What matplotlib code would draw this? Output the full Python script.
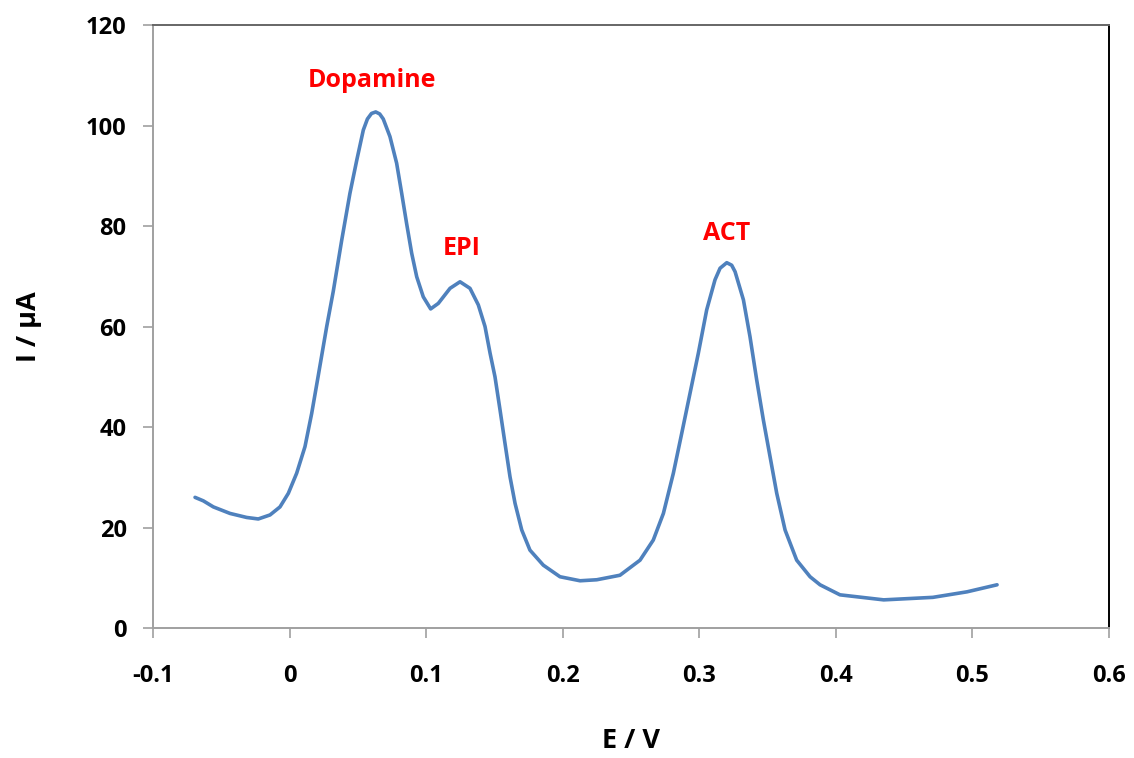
import matplotlib
matplotlib.use("Agg")
import matplotlib.pyplot as plt
from matplotlib.ticker import FuncFormatter

# differential pulse voltammogram: potential (V) vs current (uA)
potential = [
    -0.0692, -0.0631, -0.0558, -0.0436, -0.0314, -0.0229, -0.0143, -0.0070,
    -0.0009, 0.0052, 0.0113, 0.0162, 0.0210, 0.0272, 0.0320, 0.0382,
    0.0442, 0.0492, 0.0540, 0.0570, 0.0600, 0.0631, 0.0660, 0.0686,
    0.0735, 0.0784, 0.0821, 0.0857, 0.0894, 0.0931, 0.0979, 0.1033,
    0.1089, 0.1175, 0.1248, 0.1321, 0.1382, 0.1431, 0.1468, 0.1504,
    0.1541, 0.1577, 0.1614, 0.1651, 0.1700, 0.1760, 0.1858, 0.1980,
    0.2127, 0.2249, 0.2419, 0.2566, 0.2663, 0.2737, 0.2810, 0.2871,
    0.2932, 0.2993, 0.3054, 0.3115, 0.3152, 0.3201, 0.3237, 0.3262,
    0.3323, 0.3371, 0.3420, 0.3469, 0.3518, 0.3567, 0.3628, 0.3713,
    0.3811, 0.3884, 0.4030, 0.4350, 0.4710, 0.4960, 0.5180,
]
current = [
    26.0, 25.3, 24.1, 22.8, 22.0, 21.7, 22.5, 24.1,
    26.8, 30.8, 36.1, 42.7, 50.2, 60.0, 67.0, 77.2,
    86.5, 93.1, 99.1, 101.3, 102.4, 102.7, 102.3, 101.3,
    97.8, 92.5, 86.5, 80.5, 74.6, 69.9, 65.9, 63.5,
    64.6, 67.6, 68.9, 67.6, 64.3, 60.0, 54.7, 50.0,
    43.4, 36.8, 30.1, 24.8, 19.5, 15.5, 12.5, 10.2,
    9.4, 9.6, 10.5, 13.5, 17.5, 22.8, 30.8, 38.7,
    46.7, 54.7, 63.3, 69.3, 71.6, 72.7, 72.2, 70.9,
    65.3, 58.0, 49.4, 41.4, 34.1, 26.8, 19.5, 13.5,
    10.2, 8.6, 6.6, 5.6, 6.1, 7.2, 8.6,
]

peak_names = ["Dopamine", "EPI", "ACT"]
peak_label_x = [0.0603, 0.126, 0.320]
peak_label_y = [108.9, 75.6, 78.6]

x_ticks = [-0.1, 0, 0.1, 0.2, 0.3, 0.4, 0.5, 0.6]
y_ticks = [0, 20, 40, 60, 80, 100, 120]

plt.rcParams["font.family"] = ["Open Sans", "DejaVu Sans"]
plt.rcParams["font.weight"] = "bold"

fig = plt.figure(figsize=(11.34, 7.58), dpi=100)
ax = fig.add_axes([0.1349, 0.1715, 0.8431, 0.7955])

ax.plot(potential, current, color="#4F81BD", linewidth=2.6,
        solid_capstyle="round", solid_joinstyle="round")

for name, lx, ly in zip(peak_names, peak_label_x, peak_label_y):
    ax.text(lx, ly, name, color="red", fontsize=18, fontweight="bold",
            ha="center", va="center")

ax.set_xlim(-0.1, 0.6)
ax.set_ylim(0, 120)
ax.set_xticks(x_ticks)
ax.set_yticks(y_ticks)
ax.xaxis.set_major_formatter(FuncFormatter(lambda v, p: f"{v:g}".replace("\u2212", "-")))
ax.yaxis.set_major_formatter(FuncFormatter(lambda v, p: f"{v:g}"))
ax.tick_params(axis="x", direction="out", length=7, width=1.2, color="#A0A0A0",
               pad=19, labelsize=17)
ax.tick_params(axis="y", direction="out", length=7, width=1.2, color="#A0A0A0",
               pad=12, labelsize=17)
for lab in ax.get_xticklabels() + ax.get_yticklabels():
    lab.set_fontweight("bold")

ax.spines["left"].set_color("#A0A0A0")
ax.spines["bottom"].set_color("#A0A0A0")
ax.spines["top"].set_color("#666666")
ax.spines["right"].set_color("black")
for s in ax.spines.values():
    s.set_linewidth(1.4)

ax.set_xlabel("E / V", fontsize=19.5, fontweight="bold", labelpad=29)
ax.set_ylabel("I / \u03bcA", fontsize=19.5, fontweight="bold", labelpad=32)

fig.savefig("out.png", dpi=100)
